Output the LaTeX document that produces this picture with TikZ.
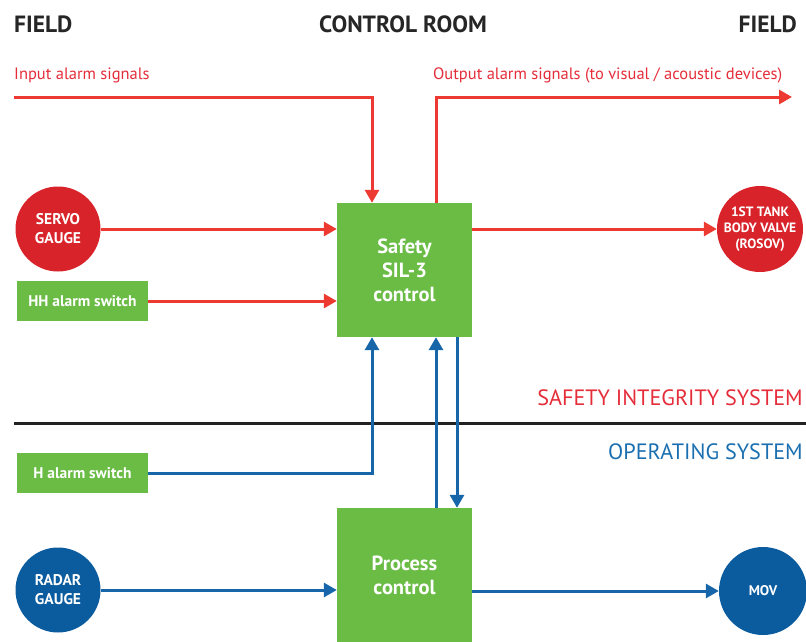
\documentclass[tikz,border=0pt]{standalone}
\usepackage{fontspec}
\setmainfont{PT Sans}
\usetikzlibrary{arrows.meta}
\definecolor{redline}{HTML}{EC3A33}
\definecolor{redcirc}{HTML}{D8232A}
\definecolor{redtext}{HTML}{E52D3A}
\definecolor{greenbox}{HTML}{6ABC45}
\definecolor{blueline}{HTML}{1766AA}
\definecolor{bluecirc}{HTML}{0B5C9E}
\definecolor{bluetext}{HTML}{1A6FB0}
\definecolor{sepcol}{HTML}{222222}
\tikzset{
  circnode/.style={circle, inner sep=0pt, minimum size=85pt, text=white, font=\bfseries\fontsize{15.5}{19}\selectfont, align=center},
  smallbox/.style={rectangle, fill=greenbox, inner sep=0pt, minimum width=131pt, minimum height=40pt, text=white, font=\bfseries\fontsize{15.5}{18}\selectfont},
  bigbox/.style={rectangle, fill=greenbox, inner sep=0pt, minimum width=135pt, minimum height=134pt, text=white, font=\bfseries\fontsize{20.5}{24}\selectfont, align=center},
  redarrow/.style={draw=redline, line width=3pt, -{Triangle[length=13pt,width=14pt]}},
  bluearrow/.style={draw=blueline, line width=3pt, -{Triangle[length=13pt,width=14pt]}},
  header/.style={font=\bfseries\fontsize{23.5}{26}\selectfont, text=black!85, inner sep=0pt},
  redlabel/.style={font=\fontsize{16.5}{19}\selectfont, text=redtext, inner sep=0pt},
  syslabel/.style={font=\fontsize{22.2}{26}\selectfont, inner sep=0pt},
}
\begin{document}
\begin{tikzpicture}[x=1pt,y=-1pt]
\useasboundingbox (0,0) rectangle (806,642);
% headers
\node[header, anchor=west] (fieldL) at (14,24) {FIELD};
\node[header] (ctrl) at (403,24) {CONTROL ROOM};
\node[header, anchor=east] (fieldR) at (797,24) {FIELD};
\node[redlabel, anchor=west] (inlab) at (14,75) {Input alarm signals};
\node[redlabel, anchor=west] (outlab) at (433,75) {Output alarm signals (to visual / acoustic devices)};
\node[syslabel, text=redtext, anchor=east] (sis) at (803,398) {SAFETY INTEGRITY SYSTEM};
\node[syslabel, text=bluetext, anchor=east] (ops) at (803,452) {OPERATING SYSTEM};
% nodes
\node[circnode, fill=redcirc] (servo) at (58,229) {SERVO\\GAUGE};
\node[smallbox] (hh) at (82.5,301) {HH alarm switch};
\node[bigbox] (safety) at (404.5,270) {Safety\\SIL-3\\control};
\node[circnode, fill=redcirc, minimum size=86pt, font=\bfseries\fontsize{13.5}{16}\selectfont] (rosov) at (760,229) {1ST TANK\\BODY VALVE\\(ROSOV)};
\node[smallbox] (h) at (82.5,473) {H alarm switch};
\node[bigbox] (proc) at (404.5,575) {Process\\control};
\node[circnode, fill=bluecirc] (radar) at (58,590) {RADAR\\GAUGE};
\node[circnode, fill=bluecirc, minimum size=88pt, font=\bfseries\fontsize{14}{17}\selectfont] (mov) at (763,591) {MOV};
% separator
\coordinate (sepL) at (14,423);
\coordinate (sepR) at (806,423);
\draw[sepcol, line width=3pt] (sepL) -- (sepR);
% red connectors
\coordinate (inStart) at (14,97);
\coordinate (outEnd) at (792,97);
\draw[redarrow] (inStart) -| ([xshift=-32.5pt]safety.north);
\draw[redarrow] ([xshift=31.5pt]safety.north) |- (outEnd);
\draw[redarrow] (servo.east) -- (servo.east -| safety.west);
\draw[redarrow] (hh.east) -- (hh.east -| safety.west);
\draw[redarrow] (safety.east |- rosov.west) -- (rosov.west);
% blue connectors
\draw[bluearrow] (h.east) -| ([xshift=-32.5pt]safety.south);
\draw[bluearrow] ([xshift=31.5pt]proc.north) -- ([xshift=31.5pt]safety.south);
\draw[bluearrow] ([xshift=52.5pt]safety.south) -- ([xshift=52.5pt]proc.north);
\draw[bluearrow] (radar.east) -- (radar.east -| proc.west);
\draw[bluearrow] (proc.east |- mov.west) -- (mov.west);
\end{tikzpicture}
\end{document}
